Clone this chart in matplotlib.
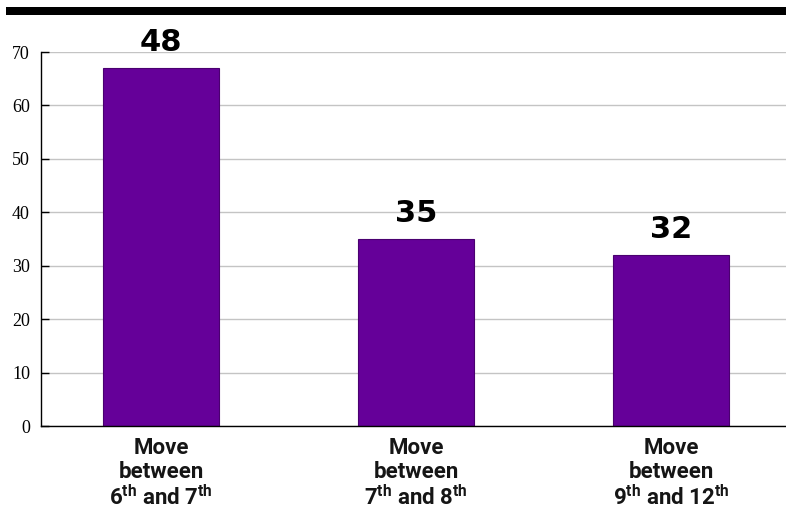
import matplotlib.pyplot as plt
from matplotlib.patches import Rectangle

# bar heights as read against the axis, and the numbers printed above them
categories = ['Move\nbetween\n6$^{\\mathregular{th}}$ and 7$^{\\mathregular{th}}$',
              'Move\nbetween\n7$^{\\mathregular{th}}$ and 8$^{\\mathregular{th}}$',
              'Move\nbetween\n9$^{\\mathregular{th}}$ and 12$^{\\mathregular{th}}$']
heights = [67, 35, 32]
printed = ['48', '35', '32']
yticks = [0, 10, 20, 30, 40, 50, 60, 70]

fig = plt.figure(figsize=(7.86, 5.14), dpi=100)
ax = fig.add_axes([0.0522, 0.1712, 0.9478, 0.7276])

x = range(len(categories))
bars = ax.bar(x, heights, width=0.455, color='#650099', edgecolor='#4a0070',
              linewidth=0.8, zorder=3)

ax.bar_label(bars, labels=printed, padding=8, fontsize=22, fontweight='bold',
             family='DejaVu Sans', color='black')

ax.set_xlim(-0.47, 2.45)
ax.set_ylim(0, 70)
ax.set_yticks(yticks)
ax.yaxis.grid(True, color='#c4c4c4', linewidth=1.0, zorder=0)
ax.set_axisbelow(True)

for s in ['top', 'right']:
    ax.spines[s].set_visible(False)
ax.spines['left'].set_linewidth(1.0)
ax.spines['bottom'].set_linewidth(1.0)
ax.spines['left'].set_zorder(4)
ax.spines['bottom'].set_zorder(4)

ax.tick_params(axis='y', direction='in', length=6, width=1.0, pad=8,
               labelsize=13)
for lbl in ax.get_yticklabels():
    lbl.set_family('Liberation Serif')

ax.set_xticks(list(x))
ax.set_xticklabels(categories, fontsize=16, fontweight='bold',
                   family='Roboto', linespacing=1.12, color='#151515')
ax.tick_params(axis='x', length=0, pad=8)

# heavy rule across the top of the page
fig.add_artist(Rectangle((6 / 786, (514 - 15) / 514), 1 - 6 / 786, 8 / 514,
                         transform=fig.transFigure, facecolor='black',
                         edgecolor='none'))

fig.savefig('out.png', dpi=100)
